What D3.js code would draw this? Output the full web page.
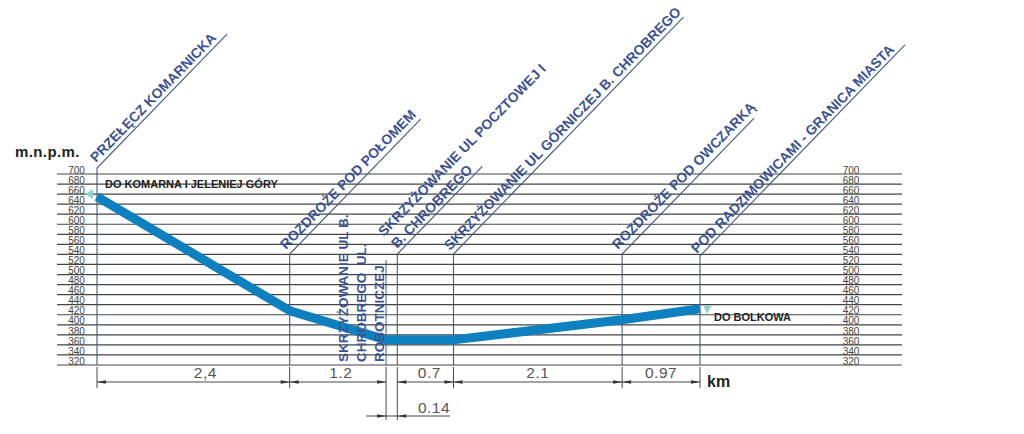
<!DOCTYPE html>
<html>
<head>
<meta charset="utf-8">
<script src="https://cdn.jsdelivr.net/npm/d3@7/dist/d3.min.js"></script>
<style>
  html, body { margin: 0; padding: 0; background: #fff; }
  svg { display: block; font-family: "Liberation Sans", Arial, sans-serif; }
</style>
</head>
<body>
<div id="chart"></div>
<script>
// profile data
const elevationTicks = [320, 340, 360, 380, 400, 420, 440, 460, 480, 500, 520, 540, 560, 580, 600, 620, 640, 660, 680, 700];
const segmentKm = [2.4, 1.2, 0.14, 0.7, 2.1, 0.97];
const segmentLabels = ['2,4', '1.2', '0.14', '0.7', '2.1', '0.97'];
const elevations = [655, 428, 370, 370, 370, 410, 432];
const stationKm = [0, ...d3.cumsum(segmentKm)];

const svg = d3.select('#chart').append('svg').attr('width', 1024).attr('height', 434);

const x = d3.scaleLinear().domain([0, 7.51]).range([97, 700]);
const y = d3.scaleLinear().domain([320, 700]).range([365, 174]);

const profile = stationKm.map((km, i) => ({ km, elev: elevations[i] }));

// Grid
svg.append('g').selectAll('line').data(elevationTicks).enter().append('line')
  .attr('x1', 57).attr('x2', 902)
  .attr('y1', d => y(d)).attr('y2', d => y(d))
  .attr('stroke', '#444').attr('stroke-width', 1.2);

// Elevation labels, both sides
[76.5, 851].forEach(px => {
  const axis = svg.append('g').attr('transform', `translate(${px},-4)`)
    .call(d3.axisLeft(y).tickValues(elevationTicks).tickSize(0));
  axis.select('.domain').remove();
  axis.selectAll('text').attr('x', 0).attr('text-anchor', 'middle')
    .style('font-family', '"Liberation Sans"').style('font-size', '10px').style('fill', '#444');
});

// Station leaders
const leaderColor = '#47597f';
const leaders = [
  { s: 0, top: 168, dx: 130 },
  { s: 1, top: 254, dx: 131 },
  { s: 3, top: 254, dx: 85 },
  { s: 4, top: 254, dx: 230 },
  { s: 5, top: 254, dx: 132 },
  { s: 6, top: 256, dx: 205 }
];
leaders.forEach(d => {
  const px = x(stationKm[d.s]);
  svg.append('path')
    .attr('d', `M${px},365V${d.top}l${d.dx},${-d.dx * 1.03}`)
    .attr('fill', 'none').attr('stroke', leaderColor).attr('stroke-width', 1.1);
});
svg.append('line').attr('x1', x(stationKm[2])).attr('x2', x(stationKm[2]))
  .attr('y1', 260).attr('y2', 365).attr('stroke', leaderColor);

// Elevation profile
svg.append('path').datum(profile)
  .attr('fill', 'none').attr('stroke', '#0f80bf').attr('stroke-width', 9).attr('stroke-linejoin', 'round')
  .attr('d', d3.line().x(d => x(d.km)).y(d => y(d.elev)));

// Direction arrows
svg.append('path').attr('d', 'M85,194L93,189L93,199Z').attr('fill', '#8fd3ca');
svg.append('path').attr('d', 'M703,305L712,305L707,314Z').attr('fill', '#8fd3ca');

// Station names along leaders
const nameColor = '#3c5290';
function slanted(txt, px, py) {
  svg.append('text').attr('transform', `translate(${px},${py}) rotate(-45.8)`)
    .text(txt).style('font-size', '13.9px').style('font-weight', 'bold').style('fill', nameColor);
}
slanted('PRZEŁĘCZ KOMARNICKA', 96, 163);
slanted('ROZDROŻE POD POŁOMEM', 286, 250);
slanted('SKRZYŻOWANIE UL POCZTOWEJ I', 384, 237);
slanted('B. CHROBREGO', 397, 249);
slanted('SKRZYŻOWANIE UL GÓRNICZEJ B. CHROBREGO', 450, 251);
slanted('ROZDROŻE POD OWCZARKĄ', 618, 250);
slanted('POD RADZIMOWICAMI - GRANICA MIASTA', 697, 254);

['SKRZYŻOWANIE UL B.', 'CHROBREGO  UL.', 'ROBOTNICZEJ'].forEach((txt, i) => {
  svg.append('text').attr('transform', `translate(${348 + i * 17.8},362) rotate(-90)`)
    .attr('xml:space', 'preserve')
    .text(txt).style('font-size', '13.5px').style('font-weight', 'bold').style('fill', nameColor);
});

// Titles and road notes
svg.append('text').attr('x', 15).attr('y', 157).text('m.n.p.m.')
  .style('font-size', '15px').style('font-weight', 'bold').style('fill', '#222').style('letter-spacing', '0.4px');
svg.append('text').attr('x', 105).attr('y', 188).text('DO KOMARNA I JELENIEJ GÓRY')
  .style('font-size', '11px').style('font-weight', 'bold').style('fill', '#222');
svg.append('text').attr('x', 714).attr('y', 321).text('DO BOLKOWA')
  .style('font-size', '11px').style('font-weight', 'bold').style('fill', '#222');
svg.append('text').attr('x', 707).attr('y', 387).text('km')
  .style('font-size', '16px').style('font-weight', 'bold').style('fill', '#222');

// Distance dimensions
const dimColor = '#333';
const labelShift = [12, 3, 0, 4, 0, 0];
function arrow(px, py, dir) {
  svg.append('path').attr('d', `M${px},${py}l${-dir * 9},-1.8v3.6Z`).attr('fill', dimColor);
}
function dim(a, b, py) {
  svg.append('line').attr('x1', a).attr('x2', b).attr('y1', py).attr('y2', py).attr('stroke', dimColor).attr('stroke-width', 0.9);
}
function dimLabel(txt, px, py) {
  svg.append('text').attr('x', px).attr('y', py).attr('text-anchor', 'middle').text(txt)
    .style('font-size', '15.5px').style('letter-spacing', '0.5px').style('fill', '#555');
}
stationKm.forEach((km, i) => {
  const long = i === 2 || i === 3;
  svg.append('line').attr('x1', x(km)).attr('x2', x(km))
    .attr('y1', 367).attr('y2', long ? 420 : 388).attr('stroke', dimColor).attr('stroke-width', 0.9);
});
segmentKm.forEach((km, i) => {
  const a = x(stationKm[i]), b = x(stationKm[i + 1]);
  if (i === 2) {
    dim(366, 450, 416);
    arrow(a, 416, 1);
    arrow(b, 416, -1);
    dimLabel(segmentLabels[i], 434, 413);
    return;
  }
  dim(a, b, 382);
  arrow(a, 382, -1);
  arrow(b, 382, 1);
  dimLabel(segmentLabels[i], (a + b) / 2 + labelShift[i], 378);
});
</script>
</body>
</html>
